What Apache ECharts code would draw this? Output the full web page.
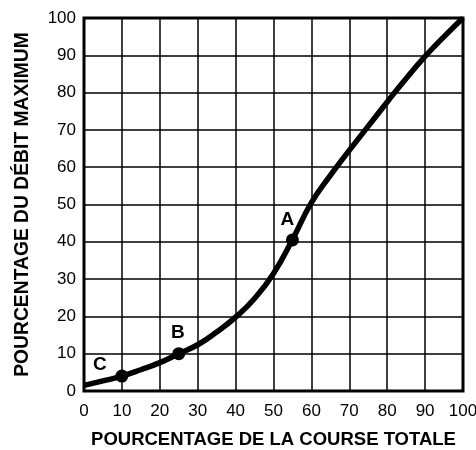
<!DOCTYPE html>
<html>
<head>
<meta charset="utf-8">
<script src="https://cdn.jsdelivr.net/npm/echarts@6/dist/echarts.min.js"></script>
<style>
  html, body { margin: 0; padding: 0; background: #fff; }
  #chart { width: 476px; height: 450px; }
</style>
</head>
<body>
<div id="chart"></div>
<script>
// course totale (%) -> débit maximum (%)
const percentCourse = [0, 5, 10, 15, 20, 25, 30, 35, 40, 45, 50, 55, 60, 65, 70, 75, 80, 85, 90, 95, 100];
const percentDebit = [1.5, 2.7, 4, 5.7, 7.6, 10, 12.4, 15.8, 19.8, 24.8, 31.5, 40.6, 50.5, 57.8, 64.5, 71, 77.5, 83.8, 89.7, 95, 100];

// points repérés sur la courbe
const pointNames = ['A', 'B', 'C'];
const pointCourse = [55, 25, 10];
const pointDebit = [40.5, 10, 4];
const pointLabelOffset = [[-5, -20], [-1, -21], [-22, -11]];

const chart = echarts.init(document.getElementById('chart'));

const nameFont = {
  fontFamily: 'Liberation Sans',
  fontWeight: 'bold',
  color: '#000'
};
const tickFont = {
  fontFamily: 'Liberation Sans',
  fontSize: 17,
  color: '#000'
};

const option = {
  animation: false,
  grid: {
    left: 84, right: 13, top: 18, bottom: 59,
    show: true,
    borderColor: '#000',
    borderWidth: 3,
    containLabel: false,
    outerBoundsMode: 'none'
  },
  xAxis: {
    type: 'value',
    min: 0, max: 100, interval: 10,
    name: 'POURCENTAGE DE LA COURSE TOTALE',
    nameLocation: 'middle',
    nameGap: 39,
    nameTextStyle: Object.assign({ fontSize: 18.5 }, nameFont),
    axisLine: { show: false },
    axisTick: { show: false },
    axisLabel: Object.assign({ margin: 12 }, tickFont),
    splitLine: { lineStyle: { color: '#000', width: 1.5 } }
  },
  yAxis: {
    type: 'value',
    min: 0, max: 100, interval: 10,
    name: 'POURCENTAGE DU DÉBIT MAXIMUM',
    nameLocation: 'middle',
    nameGap: 52,
    nameTextStyle: Object.assign({ fontSize: 19.3 }, nameFont),
    axisLine: { show: false },
    axisTick: { show: false },
    axisLabel: Object.assign({ margin: 8 }, tickFont),
    splitLine: { lineStyle: { color: '#000', width: 1.5 } }
  },
  series: [
    {
      type: 'line',
      smooth: 0.5,
      symbol: 'none',
      lineStyle: { color: '#000', width: 5.5 },
      data: percentCourse.map((x, i) => [x, percentDebit[i]]),
      z: 3
    },
    {
      type: 'scatter',
      symbolSize: 13,
      itemStyle: { color: '#000', opacity: 1 },
      data: pointNames.map((n, i) => ({
        name: n,
        value: [pointCourse[i], pointDebit[i]],
        label: {
          show: true,
          position: 'inside',
          offset: pointLabelOffset[i],
          formatter: '{b}',
          fontFamily: 'Liberation Sans',
          fontWeight: 'bold',
          fontSize: 19,
          color: '#000',
          textBorderWidth: 0
        }
      })),
      z: 4
    }
  ]
};
chart.setOption(option);
</script>
</body>
</html>
